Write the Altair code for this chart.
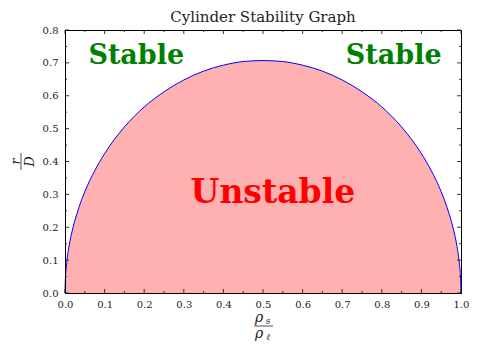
import altair as alt
import pandas as pd

# Curve (boundary between stable and unstable)
x_vals = [0.0, 0.001, 0.002, 0.005, 0.01, 0.02, 0.03, 0.05, 0.075, 0.1, 0.15, 0.2, 0.25, 0.3,
          0.35, 0.4, 0.45, 0.5, 0.55, 0.6, 0.65, 0.7, 0.75, 0.8, 0.85, 0.9, 0.925, 0.95,
          0.97, 0.98, 0.99, 0.995, 0.998, 0.999, 1.0]
r_vals = [0.0, 0.045, 0.063, 0.100, 0.141, 0.198, 0.241, 0.308, 0.372, 0.424, 0.505, 0.566,
          0.612, 0.648, 0.675, 0.693, 0.704, 0.707, 0.704, 0.693, 0.675, 0.648, 0.612, 0.566,
          0.505, 0.424, 0.372, 0.308, 0.241, 0.198, 0.141, 0.100, 0.063, 0.045, 0.0]

# Tick positions
x_major = [0.0, 0.1, 0.2, 0.3, 0.4, 0.5, 0.6, 0.7, 0.8, 0.9, 1.0]
x_minor = [0.05, 0.15, 0.25, 0.35, 0.45, 0.55, 0.65, 0.75, 0.85, 0.95]
y_major = [0.0, 0.1, 0.2, 0.3, 0.4, 0.5, 0.6, 0.7, 0.8]
y_minor = [0.05, 0.15, 0.25, 0.35, 0.45, 0.55, 0.65, 0.75]

# Annotations
ann_x = [0.18, 0.83]
ann_y = [0.72, 0.72]
ann_t = ["Stable", "Stable"]
un_x = [0.525]
un_y = [0.305]
un_t = ["Unstable"]

W, H = 396, 263
SERIF = "DejaVu Serif"
TICK = "#222222"

curve = pd.DataFrame({"x": x_vals, "r": r_vals})
xs = alt.Scale(domain=[0, 1], nice=False, zero=False)
ys = alt.Scale(domain=[0, 0.8], nice=False, zero=False)

x_axis = alt.Axis(title=None, values=x_major, format=".1f", ticks=False, grid=False,
                  domain=True, domainColor="black", domainWidth=1, labelPadding=6,
                  labelFont=SERIF, labelFontSize=10, labelColor="#222", zindex=1,
                  labelFlush=False)
y_axis = alt.Axis(title=None, values=y_major, format=".1f", ticks=False, grid=False,
                  domain=True, domainColor="black", domainWidth=1, labelPadding=7,
                  labelFont=SERIF, labelFontSize=10, labelColor="#222", zindex=1,
                  labelFlush=False)

XE = lambda f: alt.X(f, scale=xs, axis=x_axis)
YE = lambda f: alt.Y(f, scale=ys, axis=y_axis)

area = alt.Chart(curve).mark_area(color="#ffb0b0", opacity=1, interpolate="monotone").encode(
    x=XE("x:Q"), y=YE("r:Q"),
)
line = alt.Chart(curve).mark_line(color="#0000ff", strokeWidth=1, interpolate="monotone").encode(
    x=XE("x:Q"), y=YE("r:Q"),
)


def vticks(vals, length, top):
    return alt.Chart(pd.DataFrame({"x": vals})).mark_rule(color=TICK, strokeWidth=0.9).encode(
        x=XE("x:Q"),
        y=alt.value(0 if top else H),
        y2=alt.value(length if top else H - length),
    )


def hticks(vals, length, right):
    return alt.Chart(pd.DataFrame({"r": vals})).mark_rule(color=TICK, strokeWidth=0.9).encode(
        y=YE("r:Q"),
        x=alt.value(W if right else 0),
        x2=alt.value(W - length if right else length),
    )


ticks = [
    vticks(x_major, 4, False), vticks(x_major, 4, True),
    vticks(x_minor, 2, False), vticks(x_minor, 2, True),
    hticks(y_major, 4, False), hticks(y_major, 4, True),
    hticks(y_minor, 2, False), hticks(y_minor, 2, True),
]

stable = alt.Chart(pd.DataFrame({"x": ann_x, "r": ann_y, "t": ann_t})).mark_text(
    font=SERIF, fontSize=27, fontWeight="bold", color="#008000", baseline="middle", align="center"
).encode(x=XE("x:Q"), y=YE("r:Q"), text="t:N")

unstable = alt.Chart(pd.DataFrame({"x": un_x, "r": un_y, "t": un_t})).mark_text(
    font=SERIF, fontSize=33, fontWeight="bold", color="#ff0000", baseline="middle", align="center"
).encode(x=XE("x:Q"), y=YE("r:Q"), text="t:N")

one = pd.DataFrame({"a": [0]})


def txt(s, x, y, size, angle=0, italic=True):
    return alt.Chart(one).mark_text(
        text=s, font=SERIF, fontSize=size, fontStyle="italic" if italic else "normal",
        color="#222", align="center", baseline="middle", angle=angle
    ).encode(x=alt.value(x), y=alt.value(y))


def bar(x, y, x2, y2):
    return alt.Chart(one).mark_rule(color="#222", strokeWidth=0.8).encode(
        x=alt.value(x), y=alt.value(y), x2=alt.value(x2), y2=alt.value(y2)
    )


labels = [
    # y label: r over D, rotated
    txt("r", -49, 131.5, 13, angle=270),
    bar(-44, 123, -44, 140),
    txt("D", -35, 131.5, 13, angle=270),
    # x label: rho_s over rho_l
    txt("ρ", 194, 288, 14),
    txt("s", 203, 291, 9),
    bar(189, 296, 208, 296),
    txt("ρ", 194, 304, 14),
    txt("ℓ", 203, 307, 9),
]

chart = alt.layer(area, line, *ticks, stable, unstable, *labels).properties(
    width=W, height=H,
    title=alt.Title("Cylinder Stability Graph", font=SERIF, fontSize=15,
                    fontWeight="normal", color="#222", offset=5, dy=5, anchor="middle"),
    autosize=alt.AutoSizeParams(type="none"),
    padding={"left": 57, "top": 22, "right": 8, "bottom": 54},
).configure_view(stroke="black", strokeWidth=1)

chart.save("out.html", embed_options={"renderer": "svg", "actions": False})
